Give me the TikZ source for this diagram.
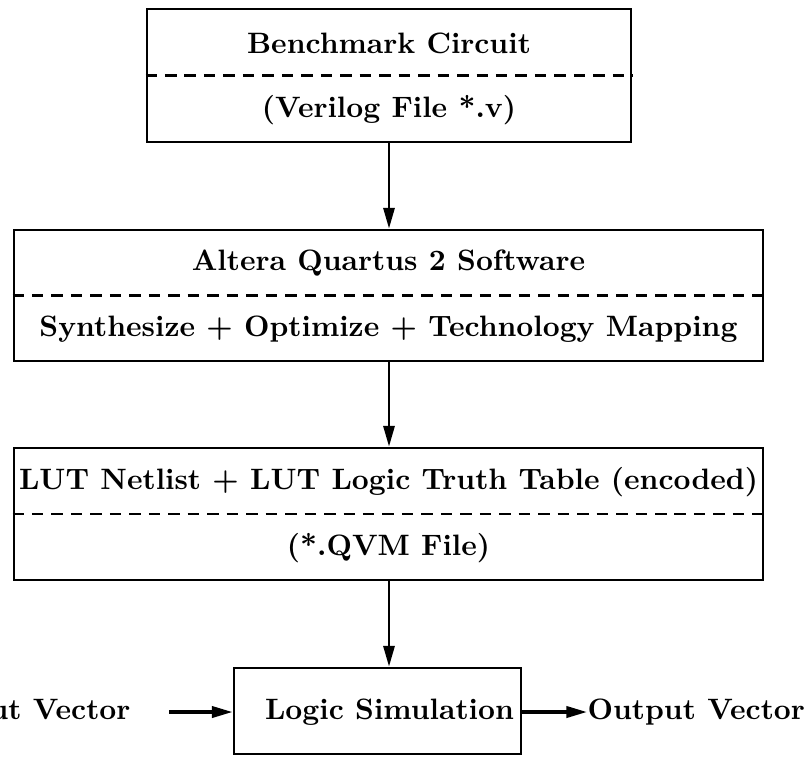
\documentclass[tikz,border=0pt]{standalone}
\usetikzlibrary{arrows.meta}
\def\pxu{0.339pt}
\tikzset{
  stage/.style={draw, line width=1pt, inner sep=0pt},
  label/.style={font=\bfseries, inner sep=0pt, anchor=center},
  split/.style={line width=1pt, dash pattern=on 3.9pt off 2.7pt},
  flow/.style={line width=0.8pt, -{Triangle[length=7pt,width=3.8pt]}},
  sideflow/.style={flow, line width=1.1pt}
}
\begin{document}
\begin{tikzpicture}[x=0.339pt, y=-0.339pt]
  \useasboundingbox (0,0) rectangle (807,756);
  % stage boxes
  \node[stage, minimum width=484*\pxu, minimum height=133*\pxu] (b1) at (389,75.5) {};
  \node[stage, minimum width=749*\pxu, minimum height=131*\pxu] (b2) at (388.5,295.5) {};
  \node[stage, minimum width=749*\pxu, minimum height=132*\pxu] (b3) at (388.5,514) {};
  \node[stage, minimum width=287*\pxu, minimum height=86*\pxu] (b4) at (377.5,711) {};
  % divider lines
  \draw[split] (b1.west) -- (b1.east);
  \draw[split] (b2.west) -- (b2.east);
  \draw[split] (b3.west) -- (b3.east);
  % texts
  \node[label] (t1a) at (389,43) {Benchmark Circuit};
  \node[label] (t1b) at (389,110) {(Verilog File *.v)};
  \node[label] (t2a) at (388.5,263) {Altera Quartus 2 Software};
  \node[label] (t2b) at (388.5,329) {Synthesize + Optimize + Technology Mapping};
  \node[label] (t3a) at (388.5,482) {LUT Netlist + LUT Logic Truth Table (encoded)};
  \node[label] (t3b) at (388.5,548) {(*.QVM File)};
  \node[label] (t4) at (389.5,712) {Logic Simulation};
  \node[label, anchor=east] (in) at (131,712) {Input Vector};
  \node[label, anchor=west] (out) at (587,712) {Output Vector};
  % connectors
  \draw[flow] (b1.south -| 389,0) -- (b2.north -| 389,0);
  \draw[flow] (b2.south -| 389,0) -- (b3.north -| 389,0);
  \draw[flow] (b3.south -| 389,0) -- (b4.north -| 389,0);
  \coordinate (inend) at (169,712);
  \draw[sideflow] (inend) -- (b4.west |- inend);
  \draw[sideflow] (b4.east |- inend) -- (out.west);
\end{tikzpicture}
\end{document}
